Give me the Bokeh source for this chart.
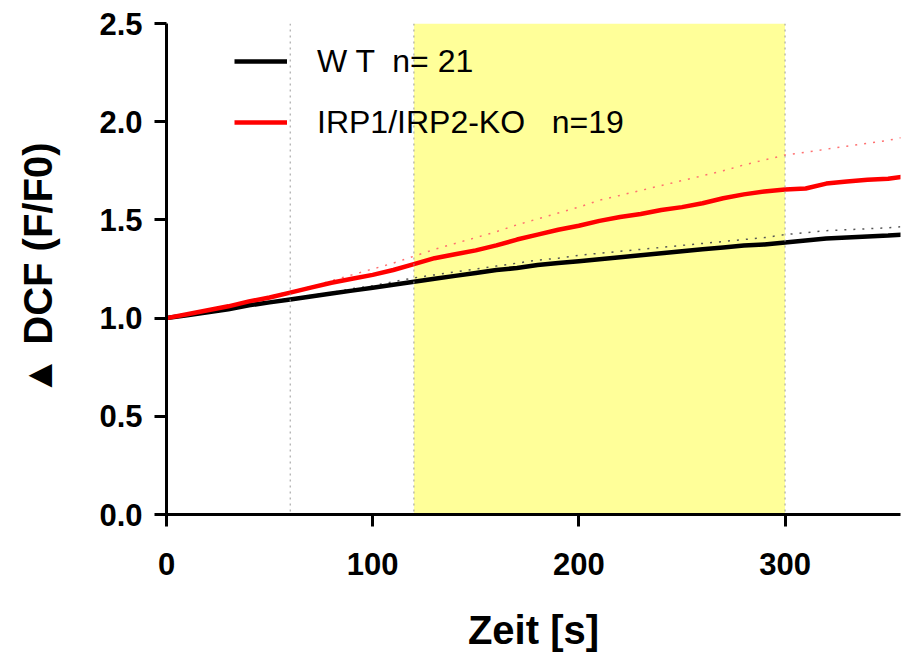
from bokeh.plotting import figure
from bokeh.models import BoxAnnotation, Span, Legend, LegendItem, FixedTicker, PrintfTickFormatter, Range1d
from bokeh.embed import file_html
from bokeh.resources import INLINE

# ---- data ----
time_s = [0, 10, 20, 30, 40, 50, 60, 70, 80, 90, 100, 110, 120, 130, 140, 150, 160, 170, 180,
          190, 200, 210, 220, 230, 240, 250, 260, 270, 280, 290, 300, 310, 320, 330, 340, 350, 357]
wt_mean = [1.00, 1.015, 1.03, 1.045, 1.065, 1.08, 1.095, 1.11, 1.125, 1.14, 1.155, 1.17, 1.185,
           1.20, 1.215, 1.23, 1.245, 1.255, 1.27, 1.28, 1.29, 1.30, 1.31, 1.32, 1.33, 1.34, 1.35,
           1.36, 1.37, 1.375, 1.385, 1.395, 1.405, 1.41, 1.415, 1.42, 1.425]
wt_upper = [1.00, 1.015, 1.03, 1.05, 1.07, 1.085, 1.10, 1.115, 1.13, 1.15, 1.165, 1.185, 1.205,
            1.22, 1.235, 1.25, 1.265, 1.28, 1.295, 1.305, 1.32, 1.33, 1.34, 1.35, 1.36, 1.37, 1.38,
            1.39, 1.40, 1.41, 1.425, 1.435, 1.445, 1.45, 1.455, 1.46, 1.466]
ko_mean = [1.00, 1.02, 1.04, 1.06, 1.085, 1.105, 1.13, 1.155, 1.18, 1.20, 1.22, 1.245, 1.275,
           1.305, 1.325, 1.345, 1.37, 1.40, 1.425, 1.45, 1.47, 1.495, 1.515, 1.53, 1.55, 1.565,
           1.585, 1.61, 1.63, 1.645, 1.655, 1.66, 1.685, 1.695, 1.705, 1.71, 1.72]
ko_upper = [1.00, 1.02, 1.04, 1.06, 1.085, 1.11, 1.135, 1.16, 1.19, 1.22, 1.25, 1.28, 1.315,
            1.35, 1.38, 1.41, 1.44, 1.475, 1.505, 1.535, 1.565, 1.60, 1.625, 1.65, 1.675, 1.70,
            1.725, 1.75, 1.78, 1.805, 1.83, 1.845, 1.86, 1.875, 1.89, 1.905, 1.92]
stim_window = [120, 300]
marker_times = [60, 120, 300]
x_ticks = [0, 100, 200, 300]
y_ticks = [0.0, 0.5, 1.0, 1.5, 2.0, 2.5]
labels = ["W T  n= 21", "IRP1/IRP2-KO   n=19"]

FONT = "Liberation Sans"

p = figure(width=901, height=654, output_backend="svg", toolbar_location=None,
           x_range=Range1d(0, 356), y_range=Range1d(0, 2.5),
           min_border_left=166, min_border_right=1, min_border_top=23, min_border_bottom=139)
p.outline_line_color = None
p.xgrid.grid_line_color = None
p.ygrid.grid_line_color = None
p.background_fill_color = "white"
p.border_fill_color = "white"

p.add_layout(BoxAnnotation(left=stim_window[0], right=stim_window[1],
                           fill_color="#FFFF99", fill_alpha=1.0, line_color=None, level="underlay"))
for t in marker_times:
    p.add_layout(Span(location=t, dimension="height", line_color="#9a9a9a",
                      line_width=1, line_dash="2 4"))

p.line(time_s, wt_upper, line_color="#555555", line_width=1.5, line_dash="2 7")
p.line(time_s, ko_upper, line_color="#ff7070", line_width=1.5, line_dash="2 7")
r_wt = p.line(time_s, wt_mean, line_color="black", line_width=4.5)
r_ko = p.line(time_s, ko_mean, line_color="#ff0000", line_width=4.5)

legend = Legend(items=[LegendItem(label=labels[0], renderers=[r_wt]),
                       LegendItem(label=labels[1], renderers=[r_ko])],
                location=(68, 372), orientation="vertical")
legend.border_line_color = None
legend.background_fill_alpha = 0
legend.padding = 0
legend.margin = 0
legend.spacing = 21
legend.glyph_width = 53
legend.glyph_height = 40
legend.label_height = 40
legend.label_standoff = 30
legend.label_text_font = FONT
legend.label_text_font_size = "32px"
legend.label_text_color = "black"
p.add_layout(legend)

for ax in (p.xaxis[0], p.yaxis[0]):
    ax.axis_line_width = 3
    ax.axis_line_color = "black"
    ax.major_tick_line_width = 3
    ax.major_tick_line_color = "black"
    ax.major_tick_out = 12
    ax.major_tick_in = 0
    ax.minor_tick_line_color = None
    ax.major_label_text_font = FONT
    ax.major_label_text_font_style = "bold"
    ax.major_label_text_font_size = "31px"
    ax.major_label_text_color = "black"
    ax.axis_label_text_font = FONT
    ax.axis_label_text_font_style = "bold"
    ax.axis_label_text_font_size = "40px"
    ax.axis_label_text_color = "black"

p.xaxis.ticker = FixedTicker(ticks=x_ticks)
p.yaxis.ticker = FixedTicker(ticks=y_ticks)
p.xaxis.formatter = PrintfTickFormatter(format="%d")
p.yaxis.formatter = PrintfTickFormatter(format="%.1f")
p.xaxis.axis_label = "Zeit [s]"
p.yaxis.axis_label = "▲ DCF (F/F0)"
p.xaxis.major_label_standoff = 26
p.yaxis.major_label_standoff = 12
p.xaxis.axis_label_standoff = 30
p.yaxis.axis_label_standoff = 36

open("out.html", "w").write(file_html(p, INLINE))
